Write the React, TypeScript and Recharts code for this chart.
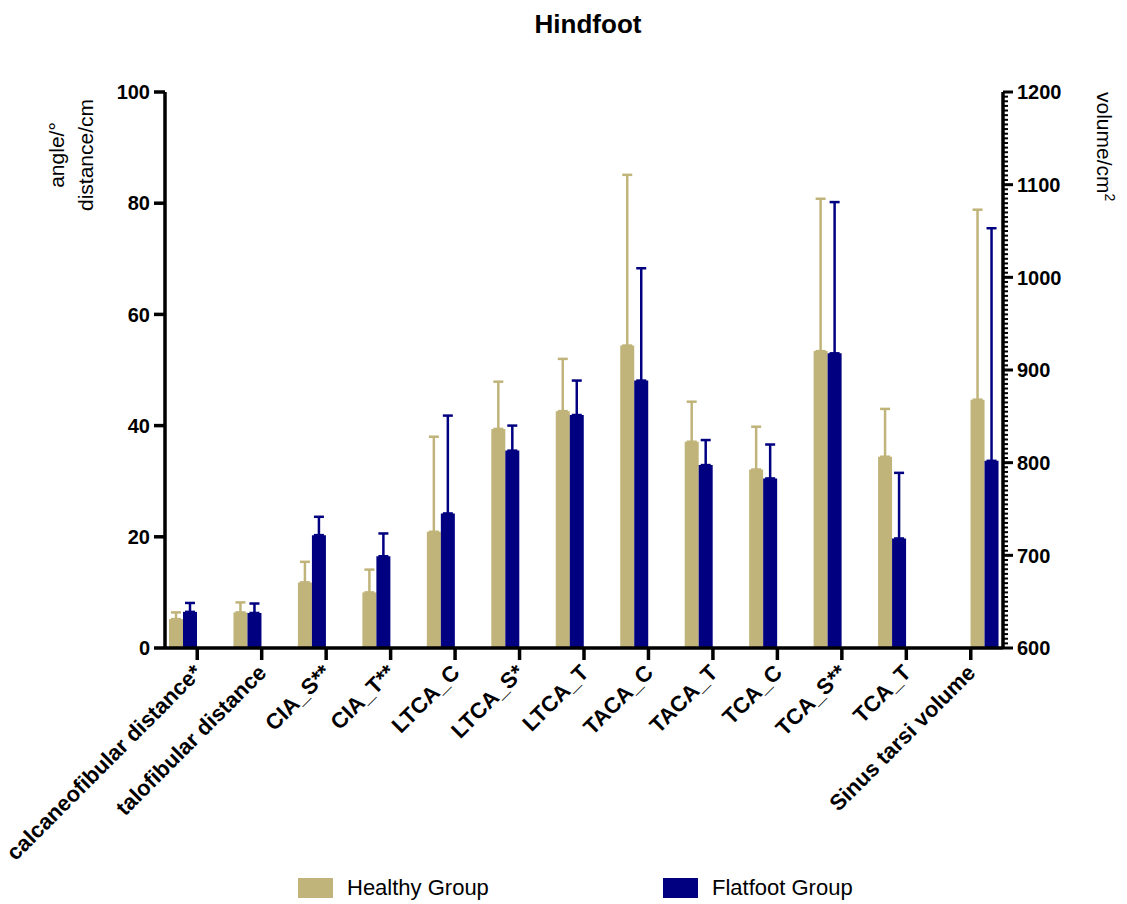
import React from "react";
import {
  BarChart,
  Bar,
  XAxis,
  YAxis,
  ErrorBar,
  Legend,
} from "recharts";

// angle / distance parameters (left axis)
const angleCategories = [
  "calcaneofibular distance*",
  "talofibular distance",
  "CIA_S**",
  "CIA_T**",
  "LTCA_C",
  "LTCA_S*",
  "LTCA_T",
  "TACA_C",
  "TACA_T",
  "TCA_C",
  "TCA_S**",
  "TCA_T",
];
const healthyMean = [5.2, 6.4, 11.8, 10.0, 20.9, 39.4, 42.6, 54.4, 37.1, 32.1, 53.4, 34.4];
const healthySD = [1.2, 1.8, 3.7, 4.1, 17.1, 8.5, 9.4, 30.7, 7.2, 7.7, 27.4, 8.6];
const flatMean = [6.5, 6.3, 20.3, 16.5, 24.2, 35.5, 41.9, 48.1, 32.9, 30.5, 53.0, 19.7];
const flatSD = [1.6, 1.7, 3.3, 4.1, 17.6, 4.5, 6.2, 20.2, 4.5, 6.1, 27.2, 11.8];

// volume (right axis)
const volumeCategory = "Sinus tarsi volume";
const healthyVolume = 868;
const healthyVolumeSD = 205;
const flatVolume = 802;
const flatVolumeSD = 251;

const leftTicks = [0, 20, 40, 60, 80, 100];
const rightMajorTicks = [600, 700, 800, 900, 1000, 1100, 1200];
const rightTicks = Array.from({ length: 121 }, (_, i) => 600 + i * 5);

const HEALTHY = "#C0B47A";
const FLAT = "#000080";
const FONT = "Arial, 'Liberation Sans', Helvetica, sans-serif";
const LEGEND_NAMES = ["Healthy Group", "Flatfoot Group"];
const LEGEND_X = [298, 663];

const data = [
  ...angleCategories.map((name, i) => ({
    name,
    healthyL: healthyMean[i],
    healthyLErr: [0, healthySD[i]],
    flatL: flatMean[i],
    flatLErr: [0, flatSD[i]],
    healthyR: null,
    healthyRErr: null,
    flatR: null,
    flatRErr: null,
  })),
  {
    name: volumeCategory,
    healthyL: null,
    healthyLErr: null,
    flatL: null,
    flatLErr: null,
    healthyR: healthyVolume,
    healthyRErr: [0, healthyVolumeSD],
    flatR: flatVolume,
    flatRErr: [0, flatVolumeSD],
  },
];

const LeftTick = ({ x, y, payload }: any) => (
  <g>
    <line x1={x - 11} x2={x} y1={y} y2={y} stroke="#000" strokeWidth={3.5} />
    <text x={x - 15} y={y} dy="0.36em" textAnchor="end" fontSize={20} fontWeight="bold" fontFamily={FONT} fill="#000">
      {payload.value}
    </text>
  </g>
);

const RightTick = ({ x, y, payload }: any) => {
  const major = rightMajorTicks.includes(payload.value);
  return (
    <g>
      <line x1={x} x2={x + (major ? 10 : 5)} y1={y} y2={y} stroke="#000" strokeWidth={major ? 3 : 2} />
      {major && (
        <text x={x + 14} y={y} dy="0.36em" textAnchor="start" fontSize={20} fontWeight="bold" fontFamily={FONT} fill="#000">
          {payload.value}
        </text>
      )}
    </g>
  );
};

const CategoryTick = ({ x, y, payload }: any) => (
  <g>
    <line x1={x} x2={x} y1={y} y2={y + 12} stroke="#000" strokeWidth={3.5} />
    <text
      x={x + 6}
      y={y + 26}
      textAnchor="end"
      transform={`rotate(-45, ${x + 6}, ${y + 26})`}
      fontSize={22}
      fontWeight="bold"
      fontFamily={FONT}
      fill="#000"
    >
      {payload.value}
    </text>
  </g>
);

const renderLegend = ({ payload }: any) => {
  const items = LEGEND_NAMES.map((n) => (payload || []).find((p: any) => p.value === n)).filter(Boolean);
  return (
    <div style={{ position: "relative", height: 24 }}>
      {items.map((p: any, i: number) => (
        <div
          key={p.value}
          style={{ position: "absolute", left: LEGEND_X[i], top: 0, display: "flex", alignItems: "center" }}
        >
          <span style={{ display: "inline-block", width: 35, height: 20, background: p.color }} />
          <span style={{ marginLeft: 14, fontSize: 22, fontFamily: FONT, color: "#000", lineHeight: "24px" }}>
            {p.value}
          </span>
        </div>
      ))}
    </div>
  );
};

export default function App() {
  return (
    <div style={{ position: "absolute", left: 0, top: 0, background: "#fff" }}>
      <BarChart
        width={1127}
        height={904}
        data={data}
        margin={{ top: 92, right: 0, bottom: 0, left: 0 }}
        barSize={14}
        barGap={0}
      >
        <text x={588} y={33} textAnchor="middle" fontSize={26} fontWeight="bold" fontFamily={FONT} fill="#000">
          Hindfoot
        </text>
        <text
          x={64}
          y={155}
          textAnchor="middle"
          transform="rotate(-90, 64, 155)"
          fontSize={21}
          fontFamily={FONT}
          fill="#000"
        >
          angle/°
        </text>
        <text
          x={93}
          y={155}
          textAnchor="middle"
          transform="rotate(-90, 93, 155)"
          fontSize={21}
          fontFamily={FONT}
          fill="#000"
        >
          distance/cm
        </text>
        <text x={1097} y={92} textAnchor="start" transform="rotate(90, 1097, 92)" fontSize={21} fontFamily={FONT} fill="#000">
          volume/cm<tspan fontSize={14} dy={-8}>2</tspan>
        </text>
        <XAxis
          dataKey="name"
          height={256}
          interval={0}
          tickSize={0}
          tickMargin={0}
          tickLine={false}
          axisLine={{ stroke: "#000", strokeWidth: 3.5 }}
          tick={<CategoryTick />}
        />
        <YAxis
          yAxisId="left"
          orientation="left"
          width={165}
          domain={[0, 100]}
          ticks={leftTicks}
          interval={0}
          tickSize={0}
          tickMargin={0}
          tickLine={false}
          axisLine={{ stroke: "#000", strokeWidth: 3.5 }}
          tick={<LeftTick />}
        />
        <YAxis
          yAxisId="right"
          orientation="right"
          width={124}
          domain={[600, 1200]}
          ticks={rightTicks}
          interval={0}
          tickSize={0}
          tickMargin={0}
          tickLine={false}
          axisLine={{ stroke: "#000", strokeWidth: 3.5 }}
          tick={<RightTick />}
        />
        <Legend
          layout="horizontal"
          verticalAlign="middle"
          align="center"
          wrapperStyle={{ top: 876, left: 0, width: 1127, height: 24 }}
          content={renderLegend}
        />
        <Bar yAxisId="left" dataKey="healthyL" name="Healthy Group" fill={HEALTHY} isAnimationActive={false}>
          <ErrorBar dataKey="healthyLErr" width={5} strokeWidth={2.5} stroke={HEALTHY} direction="y" isAnimationActive={false} />
        </Bar>
        <Bar yAxisId="left" dataKey="flatL" name="Flatfoot Group" fill={FLAT} isAnimationActive={false}>
          <ErrorBar dataKey="flatLErr" width={5} strokeWidth={2.5} stroke={FLAT} direction="y" isAnimationActive={false} />
        </Bar>
        <Bar yAxisId="right" dataKey="healthyR" name="Healthy Volume" legendType="none" fill={HEALTHY} isAnimationActive={false}>
          <ErrorBar dataKey="healthyRErr" width={5} strokeWidth={2.5} stroke={HEALTHY} direction="y" isAnimationActive={false} />
        </Bar>
        <Bar yAxisId="right" dataKey="flatR" name="Flatfoot Volume" legendType="none" fill={FLAT} isAnimationActive={false}>
          <ErrorBar dataKey="flatRErr" width={5} strokeWidth={2.5} stroke={FLAT} direction="y" isAnimationActive={false} />
        </Bar>
      </BarChart>
    </div>
  );
}
